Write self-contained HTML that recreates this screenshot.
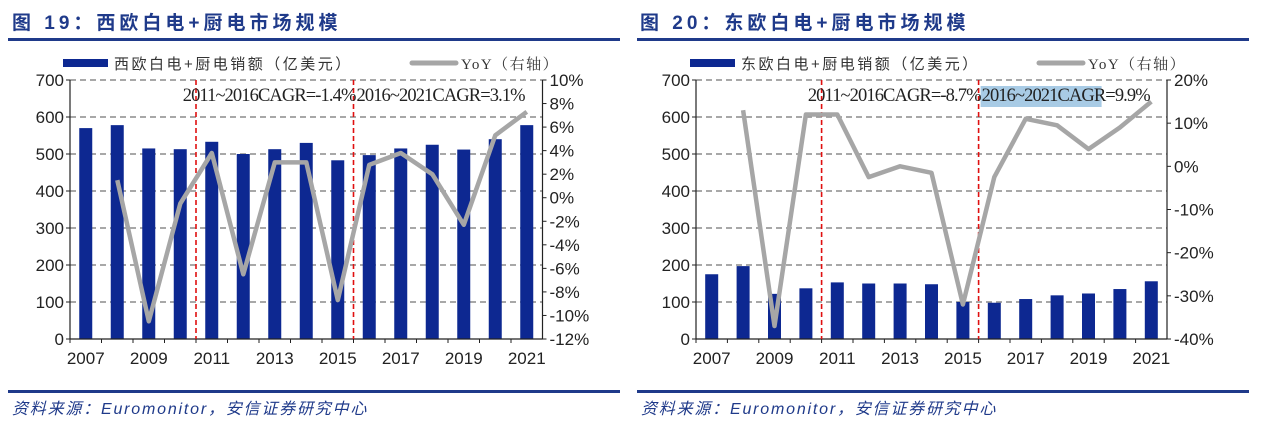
<!DOCTYPE html>
<html><head><meta charset="utf-8"><style>
body{margin:0;background:#fff;width:1269px;height:424px;overflow:hidden}
svg{display:block}
</style></head><body>
<svg id="s" width="1269" height="424" xmlns="http://www.w3.org/2000/svg" font-family="Liberation Sans, Noto Sans CJK SC, sans-serif">
<g>
<text x="12" y="29" font-size="19" font-weight="bold" fill="#1f3a8a" letter-spacing="4" font-family="Liberation Sans, Noto Sans CJK SC, sans-serif">图 19：西欧白电+厨电市场规模</text>
<rect x="8" y="38" width="612" height="3" fill="#1f3a8a"/></g>
<g>
<text x="640" y="29" font-size="19" font-weight="bold" fill="#1f3a8a" letter-spacing="4" font-family="Liberation Sans, Noto Sans CJK SC, sans-serif">图 20：东欧白电+厨电市场规模</text>
<rect x="637" y="38" width="612" height="3" fill="#1f3a8a"/></g>
<rect x="8" y="390" width="612" height="3" fill="#1f3a8a"/>
<rect x="637" y="390" width="612" height="3" fill="#1f3a8a"/>
<text x="12" y="414" font-size="16" font-style="italic" letter-spacing="1.8" fill="#1f3a8a">资料来源：Euromonitor，安信证券研究中心</text>
<text x="641" y="414" font-size="16" font-style="italic" letter-spacing="1.8" fill="#1f3a8a">资料来源：Euromonitor，安信证券研究中心</text>
</svg>
<script>
const years=["2007","2008","2009","2010","2011","2012","2013","2014","2015","2016","2017","2018","2019","2020","2021"];
const xTickLabels=["2007","2009","2011","2013","2015","2017","2019","2021"];
const leftTicks=[0,100,200,300,400,500,600,700];
const westSales=[570,578,515,513,533,500,513,530,483,497,515,525,512,540,578];
const westYoY=[null,1.5,-10.5,-0.5,3.8,-6.5,3,3,-8.7,2.8,3.8,2,-2.3,5.3,7.3];
const westRightTicks=[10,8,6,4,2,0,-2,-4,-6,-8,-10,-12];
const eastSales=[175,197,122,137,153,150,150,148,100,98,108,118,123,135,156];
const eastYoY=[null,13,-37,12,12,-2.5,0,-1.5,-32,-2.5,11,9.5,4,9,15];
const eastRightTicks=[20,10,0,-10,-20,-30,-40];
const westLabels=["2011~2016CAGR=-1.4%","2016~2021CAGR=3.1%"];
const eastLabels=["2011~2016CAGR=-8.7%","2016~2021CAGR=9.9%"];
const NS="http://www.w3.org/2000/svg";
const svg=document.getElementById('s');
function mk(t,a,p){const e=document.createElementNS(NS,t);for(const k in a)e.setAttribute(k,a[k]);(p||svg).appendChild(e);return e;}
function draw(cfg){
 const x0=cfg.x0,x1=cfg.x0+cfg.step*15,yT=80,yB=339;
 const g=mk('g',{});
 
 
 const yL=v=>yB-(v/700)*(yB-yT);
 const rMax=cfg.rTicks[0],rMin=cfg.rTicks[cfg.rTicks.length-1];
 const yR=v=>yT+(rMax-v)/(rMax-rMin)*(yB-yT);
 const xc=i=>x0+cfg.step*(i+0.5);
 leftTicks.forEach(v=>{
  if(v>0){const l=mk('line',{x1:x0,x2:x1,y1:yL(v),y2:yL(v),stroke:'#8c8c8c','stroke-width':1.6,'stroke-dasharray':'6,4'},g);
  }
  const t=mk('text',{x:x0-6,y:yL(v)+6,'font-size':17,'text-anchor':'end',fill:'#222'},g);t.textContent=v;
  
  mk('line',{x1:x0-4,x2:x0,y1:yL(v),y2:yL(v),stroke:'#222'},g);
 });
 cfg.rTicks.forEach(v=>{
  const t=mk('text',{x:x1+7,y:yR(v)+6,'font-size':17,fill:'#222'},g);t.textContent=v+'%';
  
  mk('line',{x1:x1,x2:x1+4,y1:yR(v),y2:yR(v),stroke:'#222'},g);
 });
 cfg.sales.forEach((v,i)=>{
  const b=mk('rect',{x:xc(i)-6.5,y:yL(v),width:13,height:yB-yL(v),fill:'#0d2891'},g);
  
 });
 mk('line',{x1:x0,x2:x0,y1:yT,y2:yB,stroke:'#222','stroke-width':1.2},g);
 mk('line',{x1:x1,x2:x1,y1:yT,y2:yB,stroke:'#222','stroke-width':1.2},g);
 mk('line',{x1:x0,x2:x1,y1:yB,y2:yB,stroke:'#222','stroke-width':1.2},g);
 years.forEach((y,i)=>{mk('line',{x1:x0+cfg.step*i,x2:x0+cfg.step*i,y1:yB,y2:yB+4,stroke:'#222'},g);});
 years.forEach((y,i)=>{if(xTickLabels.includes(y)){const t=mk('text',{x:xc(i),y:364,'font-size':17,'text-anchor':'middle',fill:'#222'},g);t.textContent=y;
  }});
 [4,9].forEach(k=>{const l=mk('line',{x1:x0+cfg.step*k,x2:x0+cfg.step*k,y1:yT,y2:yB,stroke:'#e01010','stroke-width':1.6,'stroke-dasharray':'5,3'},g);
  });
 if(cfg.hl){mk('rect',{x:x0+cfg.step*9+2,y:86,width:121,height:21,fill:'#a8cbe5'},g);}
 const t1=mk('text',{x:x0+cfg.step*9+2,y:101,'font-size':18.5,'text-anchor':'end',fill:'#222','font-family':'Liberation Serif, serif','letter-spacing':'-0.9'},g);t1.textContent=cfg.labels[0];
 
 const t2=mk('text',{x:x0+cfg.step*9+3,y:101,'font-size':18.5,fill:'#222','font-family':'Liberation Serif, serif','letter-spacing':'-0.9'},g);t2.textContent=cfg.labels[1];
 
 let d='';cfg.yoy.forEach((v,i)=>{if(v==null)return;d+=(d?'L':'M')+xc(i).toFixed(1)+','+yR(v).toFixed(1);});
 const p=mk('path',{d:d,fill:'none',stroke:'#a6a6a6','stroke-width':4.5,'stroke-linejoin':'round'},g);
 
 const lg=mk('g',{},g);
 
 mk('rect',{x:cfg.lx,y:59,width:45,height:8,fill:'#0d2891'},lg);
 const lt=mk('text',{x:cfg.lx+51,y:69,'font-size':15,fill:'#333','letter-spacing':'2.5'},lg);lt.textContent=cfg.legend;
 mk('line',{x1:cfg.lx+349,x2:cfg.lx+393,y1:63,y2:63,stroke:'#a6a6a6','stroke-width':5,'stroke-linecap':'round'},lg);
 const lt2=mk('text',{x:cfg.lx+398,y:69,'font-size':15,fill:'#333','letter-spacing':'1.5','font-family':'Liberation Serif, Noto Serif CJK SC, serif'},lg);lt2.textContent='YoY（右轴）';
}
draw({name:'west-europe-chart',x0:70,step:31.5,sales:westSales,yoy:westYoY,rTicks:westRightTicks,labels:westLabels,legend:'西欧白电+厨电销额（亿美元）',lx:63,hl:false});
draw({name:'east-europe-chart',x0:696,step:31.4,sales:eastSales,yoy:eastYoY,rTicks:eastRightTicks,labels:eastLabels,legend:'东欧白电+厨电销额（亿美元）',lx:690,hl:true});
</script>
</body></html>
